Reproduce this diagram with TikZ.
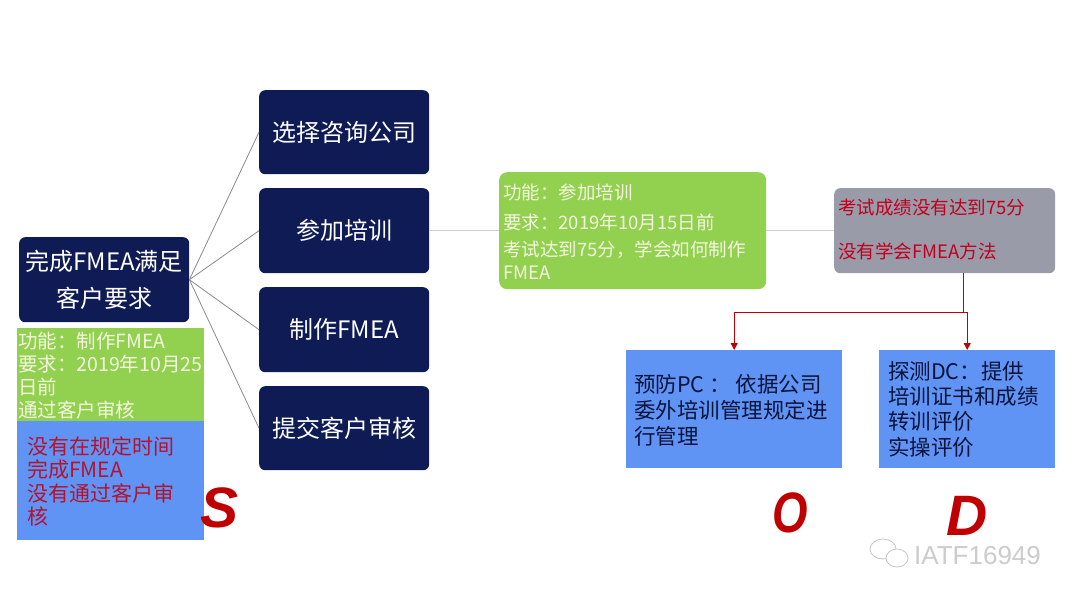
\documentclass[tikz,border=0pt]{standalone}
\usepackage{fontspec}
\usepackage{graphicx}
\setmainfont{Noto Sans CJK SC}
\newfontfamily\letterfont{Liberation Sans}
\usetikzlibrary{arrows.meta}
\definecolor{navyc}{HTML}{0E1B54}
\definecolor{greenc}{HTML}{92D050}
\definecolor{bluec}{HTML}{5F94F5}
\definecolor{grayc}{HTML}{9A9BA8}
\definecolor{redtxt}{HTML}{B5122E}
\definecolor{redg}{HTML}{C0001E}
\definecolor{redc}{HTML}{C00000}
\definecolor{palet}{HTML}{F4F8DF}
\definecolor{connc}{HTML}{8A8A90}
\definecolor{lightc}{HTML}{CFCFD6}
\begin{document}
\begin{tikzpicture}[x=1pt,y=-1pt,
  navybox/.style={rectangle, rounded corners=6pt, fill=navyc, text=white,
    minimum width=170pt, minimum height=85pt, inner sep=0pt, align=center,
    anchor=north west, font=\fontsize{24}{37}\selectfont},
  flatbox/.style={rectangle, inner sep=0pt, anchor=north west},
  txt/.style={inner sep=0pt, anchor=north west, align=left},
  conn/.style={draw=connc, line width=0.8pt},
  lightconn/.style={draw=lightc, line width=1pt},
  redline/.style={draw=redc, line width=0.9pt},
  letter/.style={text=redc, inner sep=0pt, font=\letterfont\bfseries\itshape\fontsize{57}{57}\selectfont}
]
\useasboundingbox (0,0) rectangle (1080,600);
\fill[white] (0,0) rectangle (1080,600);

% root and branches
\node[navybox] (root) at (19,237) {完成FMEA满足\\客户要求};
\node[navybox, minimum height=84pt] (b1) at (259,90) {选择咨询公司};
\node[navybox] (b2) at (259,188) {参加培训};
\node[navybox] (b3) at (259,287) {制作FMEA};
\node[navybox, minimum height=84pt] (b4) at (259,386) {提交客户审核};

% left info boxes
\node[flatbox, fill=greenc, minimum width=187pt, minimum height=93pt] (gl) at (17,328) {};
\node[flatbox, fill=bluec, minimum width=187pt, minimum height=119pt] (bl) at (17,421) {};
\node[txt, text=palet, font=\fontsize{19.5}{23}\selectfont] (glt) at (18,332)
  {功能：制作FMEA\\要求：2019年10月25\\日前\\通过客户审核};
\node[txt, text=redtxt, font=\fontsize{21}{23.5}\selectfont] (blt) at (27,436.5)
  {没有在规定时间\\完成FMEA\\没有通过客户审\\核};

% connectors from root
\draw[conn] (root.east) -- (b1.west);
\draw[conn] (root.east) -- (b2.west);
\draw[conn] (root.east) -- (b3.west);
\draw[conn] (root.east) -- (b4.west);

% middle green box and gray box
\node[flatbox, fill=greenc, rounded corners=8pt, minimum width=267pt, minimum height=117pt] (g2) at (499,172) {};
\node[flatbox, fill=grayc, rounded corners=6pt, minimum width=221pt, minimum height=85pt] (gb) at (834,188) {};
\draw[lightconn] (b2.east) -- (g2.west);
\draw[lightconn] (g2.east) -- (gb.west);
\node[txt, text=palet, font=\fontsize{18.5}{23}\selectfont] (g2t) at (503,183.5)
  {功能：参加培训\\[7pt]要求：2019年10月15日前\\[4pt]考试达到75分，学会如何制作\\FMEA};
\node[txt, text=redg, font=\fontsize{18.5}{23}\selectfont] (gbt) at (838,198.5)
  {考试成绩没有达到75分\\[21pt]没有学会FMEA方法};

% O and D boxes
\node[flatbox, fill=bluec, minimum width=216pt, minimum height=118pt] (po) at (626,350) {};
\node[flatbox, fill=bluec, minimum width=176pt, minimum height=118pt] (pd) at (879,350) {};
\node[txt, text=navyc!70!black, font=\fontsize{21.5}{26}\selectfont] (pot) at (634,374)
  {预防PC ： 依据公司\\委外培训管理规定进\\行管理};
\node[txt, text=navyc!70!black, font=\fontsize{21.5}{25.3}\selectfont] (pdt) at (888,361)
  {探测DC：提供\\培训证书和成绩\\转训评价\\实操评价};

% red connectors
\coordinate (rj) at (963,312);
\draw[redline] (gb.south -| rj) -- (rj);
\draw[redline, -{Triangle[length=7pt,width=7pt]}] (rj) -| (po.north);
\draw[redline, -{Triangle[length=7pt,width=7pt]}] (rj) -| (pd.north);

% S O D letters
\node[letter] (ls) at (220,508) {S};
\node[letter] (lo) at (790,513) {\scalebox{0.8}[1]{O}};
\node[letter] (ld) at (967,516) {D};

% watermark
\fill[white] (897,558) ellipse [x radius=11, y radius=9];
\draw[gray!45, line width=0.8pt] (883,549) ellipse [x radius=13, y radius=10];
\fill[white] (897,558) ellipse [x radius=11, y radius=9];
\draw[gray!45, line width=0.8pt] (897,558) ellipse [x radius=11, y radius=9];
\node[text=gray!40, inner sep=0pt, anchor=west, font=\letterfont\fontsize{26}{26}\selectfont] (wm) at (914,556) {IATF16949};
\end{tikzpicture}
\end{document}
